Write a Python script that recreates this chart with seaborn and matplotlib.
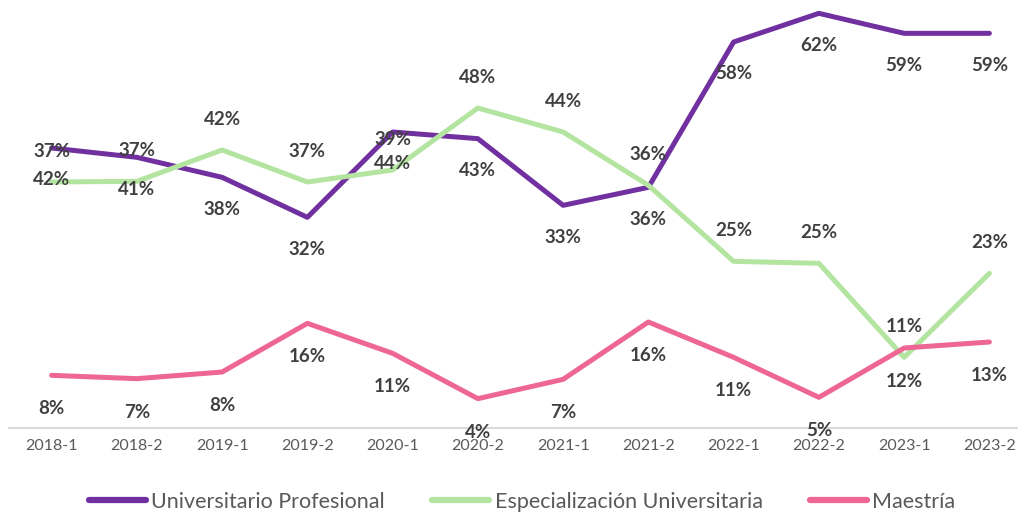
import matplotlib
matplotlib.use("Agg")
import matplotlib.pyplot as plt
import seaborn as sns
import pandas as pd

periods = ["2018-1", "2018-2", "2019-1", "2019-2", "2020-1", "2020-2",
           "2021-1", "2021-2", "2022-1", "2022-2", "2023-1", "2023-2"]
series_names = ["Universitario Profesional", "Especialización Universitaria", "Maestría"]
univ_prof = [42.0, 40.6, 37.6, 31.6, 44.4, 43.4, 33.4, 36.1, 57.9, 62.2, 59.2, 59.2]
espec_univ = [36.9, 37.0, 41.7, 36.9, 38.7, 48.0, 44.4, 36.4, 25.0, 24.7, 10.6, 23.2]
maestria = [7.9, 7.4, 8.4, 15.7, 11.2, 4.4, 7.3, 15.9, 10.6, 4.6, 12.0, 12.9]

colors = ["#7030A0", "#B3E5A1", "#EE6694"]
label_offsets = [-23, 22, -24]  # points: below, above, below

sns.set_theme(style="white")
plt.rcParams['font.family'] = ['Lato', 'DejaVu Sans']

rows = []
for name, vals in zip(series_names, [univ_prof, espec_univ, maestria]):
    for p, v in zip(periods, vals):
        rows.append({"Periodo": p, "Valor": v, "Serie": name})
df = pd.DataFrame(rows)

fig = plt.figure(figsize=(10.18, 5.17), dpi=100)
ax = fig.add_axes([9 / 1018, (517 - 428) / 517, 1023 / 1018, 428 / 517])

sns.lineplot(data=df, x="Periodo", y="Valor", hue="Serie", hue_order=series_names,
             palette=colors, linewidth=3.6, sort=False, ax=ax, legend=False,
             solid_capstyle="round", clip_on=False)

for vals, off in zip([univ_prof, espec_univ, maestria], label_offsets):
    for i, v in enumerate(vals):
        ax.annotate(f"{v:.0f}%", xy=(i, v), xytext=(0, off), textcoords="offset points",
                    ha="center", va="center", fontsize=13.5, fontweight="bold",
                    color="#404040", annotation_clip=False)

ax.set_xlim(-0.5, 11.5)
ax.set_ylim(0, 64.2)
ax.set_xlabel("")
ax.set_ylabel("")
ax.set_yticks([])
for s in ["top", "right", "left"]:
    ax.spines[s].set_visible(False)
ax.spines["bottom"].set_color("#D9D9D9")
ax.spines["bottom"].set_linewidth(1.4)
ax.tick_params(axis="x", length=0, pad=8, labelsize=11.5, labelcolor="#595959")

handles = [plt.Line2D([0], [0], color=c, linewidth=4.5, solid_capstyle="round") for c in colors]
fig.legend(handles, series_names, loc="center", bbox_to_anchor=(0.513, 0.029), ncol=3,
           frameon=False, fontsize=15.5, labelcolor="#595959", handlelength=2.65,
           handletextpad=0.25, columnspacing=2.2)

fig.savefig("out.png", dpi=100, facecolor="white")
